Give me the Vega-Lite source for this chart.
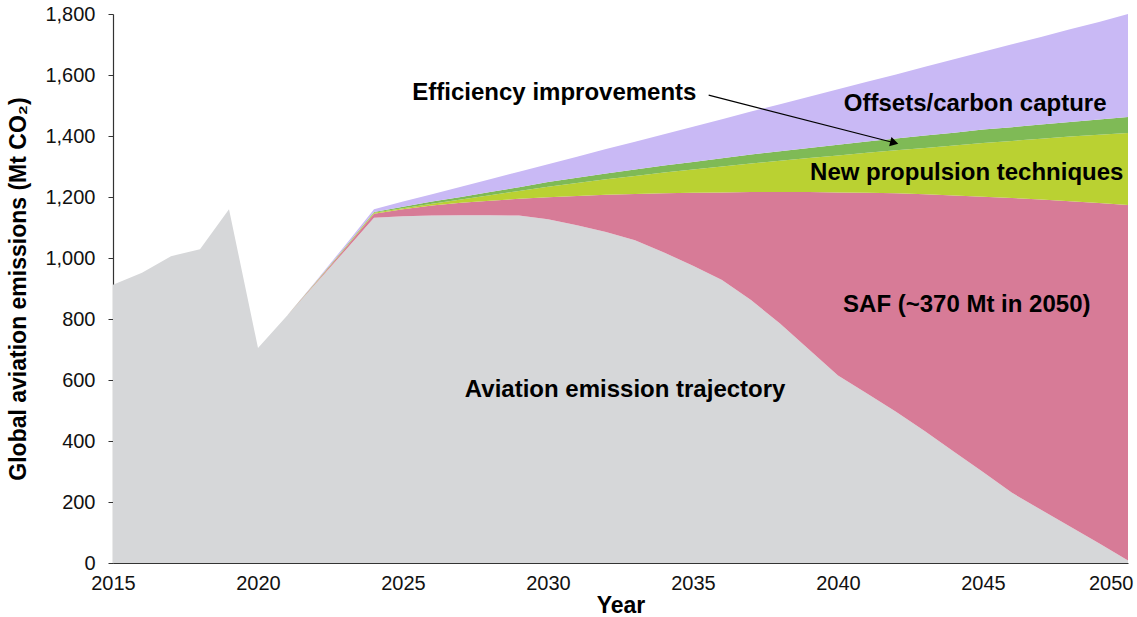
{
  "$schema": "https://vega.github.io/schema/vega-lite/v6.json",
  "width": 1015,
  "height": 549,
  "autosize": "none",
  "padding": {"left": 113, "top": 14, "right": 9, "bottom": 54},
  "background": "white",
  "config": {"view": {"stroke": null}, "font": "Liberation Sans"},
  "datasets": {
    "em": [
      {"year": 2015, "s1_trajectory": 912, "s2_saf": 0, "s3_propulsion": 0, "s4_efficiency": 0, "s5_offsets": 0},
      {"year": 2016, "s1_trajectory": 952, "s2_saf": 0, "s3_propulsion": 0, "s4_efficiency": 0, "s5_offsets": 0},
      {"year": 2017, "s1_trajectory": 1006, "s2_saf": 0, "s3_propulsion": 0, "s4_efficiency": 0, "s5_offsets": 0},
      {"year": 2018, "s1_trajectory": 1029, "s2_saf": 0, "s3_propulsion": 0, "s4_efficiency": 0, "s5_offsets": 0},
      {"year": 2019, "s1_trajectory": 1160, "s2_saf": 0, "s3_propulsion": 0, "s4_efficiency": 0, "s5_offsets": 0},
      {"year": 2020, "s1_trajectory": 705, "s2_saf": 0, "s3_propulsion": 0, "s4_efficiency": 0, "s5_offsets": 0},
      {"year": 2021, "s1_trajectory": 811, "s2_saf": 0, "s3_propulsion": 0, "s4_efficiency": 0, "s5_offsets": 0},
      {"year": 2022, "s1_trajectory": 917, "s2_saf": 3, "s3_propulsion": 1, "s4_efficiency": 1, "s5_offsets": 3},
      {"year": 2023, "s1_trajectory": 1024, "s2_saf": 7, "s3_propulsion": 2, "s4_efficiency": 2, "s5_offsets": 6},
      {"year": 2024, "s1_trajectory": 1132, "s2_saf": 13, "s3_propulsion": 3, "s4_efficiency": 3, "s5_offsets": 9},
      {"year": 2025, "s1_trajectory": 1137, "s2_saf": 23, "s3_propulsion": 3, "s4_efficiency": 5, "s5_offsets": 17},
      {"year": 2026, "s1_trajectory": 1139, "s2_saf": 33, "s3_propulsion": 6, "s4_efficiency": 7, "s5_offsets": 24},
      {"year": 2027, "s1_trajectory": 1140, "s2_saf": 41, "s3_propulsion": 11, "s4_efficiency": 8, "s5_offsets": 34},
      {"year": 2028, "s1_trajectory": 1140, "s2_saf": 48, "s3_propulsion": 18, "s4_efficiency": 10, "s5_offsets": 42},
      {"year": 2029, "s1_trajectory": 1139, "s2_saf": 55, "s3_propulsion": 26, "s4_efficiency": 12, "s5_offsets": 51},
      {"year": 2030, "s1_trajectory": 1127, "s2_saf": 72, "s3_propulsion": 35, "s4_efficiency": 15, "s5_offsets": 58},
      {"year": 2031, "s1_trajectory": 1107, "s2_saf": 96, "s3_propulsion": 43, "s4_efficiency": 17, "s5_offsets": 69},
      {"year": 2032, "s1_trajectory": 1085, "s2_saf": 122, "s3_propulsion": 51, "s4_efficiency": 19, "s5_offsets": 80},
      {"year": 2033, "s1_trajectory": 1058, "s2_saf": 152, "s3_propulsion": 59, "s4_efficiency": 21, "s5_offsets": 91},
      {"year": 2034, "s1_trajectory": 1018, "s2_saf": 194, "s3_propulsion": 68, "s4_efficiency": 23, "s5_offsets": 103},
      {"year": 2035, "s1_trajectory": 975, "s2_saf": 239, "s3_propulsion": 76, "s4_efficiency": 25, "s5_offsets": 115},
      {"year": 2036, "s1_trajectory": 928, "s2_saf": 287, "s3_propulsion": 85, "s4_efficiency": 27, "s5_offsets": 128},
      {"year": 2037, "s1_trajectory": 862, "s2_saf": 354, "s3_propulsion": 94, "s4_efficiency": 29, "s5_offsets": 141},
      {"year": 2038, "s1_trajectory": 785, "s2_saf": 431, "s3_propulsion": 103, "s4_efficiency": 31, "s5_offsets": 154},
      {"year": 2039, "s1_trajectory": 700, "s2_saf": 516, "s3_propulsion": 112, "s4_efficiency": 33, "s5_offsets": 168},
      {"year": 2040, "s1_trajectory": 615, "s2_saf": 600, "s3_propulsion": 121, "s4_efficiency": 35, "s5_offsets": 182},
      {"year": 2041, "s1_trajectory": 556, "s2_saf": 658, "s3_propulsion": 131, "s4_efficiency": 37, "s5_offsets": 196},
      {"year": 2042, "s1_trajectory": 496, "s2_saf": 716, "s3_propulsion": 141, "s4_efficiency": 39, "s5_offsets": 210},
      {"year": 2043, "s1_trajectory": 432, "s2_saf": 777, "s3_propulsion": 152, "s4_efficiency": 41, "s5_offsets": 225},
      {"year": 2044, "s1_trajectory": 365, "s2_saf": 840, "s3_propulsion": 164, "s4_efficiency": 42, "s5_offsets": 241},
      {"year": 2045, "s1_trajectory": 298, "s2_saf": 903, "s3_propulsion": 176, "s4_efficiency": 44, "s5_offsets": 255},
      {"year": 2046, "s1_trajectory": 230, "s2_saf": 967, "s3_propulsion": 187, "s4_efficiency": 45, "s5_offsets": 272},
      {"year": 2047, "s1_trajectory": 175, "s2_saf": 1017, "s3_propulsion": 199, "s4_efficiency": 47, "s5_offsets": 287},
      {"year": 2048, "s1_trajectory": 120, "s2_saf": 1066, "s3_propulsion": 212, "s4_efficiency": 48, "s5_offsets": 304},
      {"year": 2049, "s1_trajectory": 65, "s2_saf": 1115, "s3_propulsion": 224, "s4_efficiency": 50, "s5_offsets": 320},
      {"year": 2050, "s1_trajectory": 8, "s2_saf": 1166, "s3_propulsion": 236, "s4_efficiency": 52, "s5_offsets": 338}
    ],
    "arrow": [
      {"x": 2035.54, "y": 1534, "x2": 2041.94, "y2": 1378}
    ],
    "labels": [
      {"x": 2030.22, "y": 1541, "label": "Efficiency improvements"},
      {"x": 2044.73, "y": 1505, "label": "Offsets/carbon capture"},
      {"x": 2044.44, "y": 1279, "label": "New propulsion techniques"},
      {"x": 2044.44, "y": 846, "label": "SAF (~370 Mt in 2050)"},
      {"x": 2032.66, "y": 567, "label": "Aviation emission trajectory"}
    ]
  },
  "layer": [
    {
      "data": {"name": "em"},
      "transform": [
        {"fold": ["s1_trajectory", "s2_saf", "s3_propulsion", "s4_efficiency", "s5_offsets"], "as": ["series", "value"]}
      ],
      "mark": {"type": "area", "opacity": 1},
      "encoding": {
        "x": {
          "field": "year", "type": "quantitative", "title": "Year",
          "scale": {"domain": [2015, 2050], "nice": false, "zero": false},
          "axis": {
            "values": [2015, 2020, 2025, 2030, 2035, 2040, 2045, 2050],
            "format": "d", "ticks": false, "grid": false,
            "domainColor": "#333333", "domainWidth": 1.2,
            "labelFontSize": 20, "labelColor": "#111111", "labelPadding": 10,
            "labelAlign": {"condition": {"test": "datum.value == 2050", "value": "right"}, "value": "center"},
            "labelOffset": {"condition": {"test": "datum.value == 2050", "value": 5}, "value": 0},
            "titleFontSize": 23, "titleFontWeight": "bold", "titleColor": "#000000", "titlePadding": 1
          }
        },
        "y": {
          "field": "value", "type": "quantitative", "stack": "zero",
          "title": "Global aviation emissions (Mt CO₂)",
          "scale": {"domain": [0, 1800], "nice": false},
          "axis": {
            "values": [0, 200, 400, 600, 800, 1000, 1200, 1400, 1600, 1800],
            "format": ",.0f", "grid": false,
            "ticks": true, "tickSize": 5, "tickColor": "#333333",
            "domainColor": "#333333", "domainWidth": 1.2,
            "labelFontSize": 20, "labelColor": "#111111", "labelPadding": 13,
            "titleFontSize": 23, "titleFontWeight": "bold", "titleColor": "#000000", "titlePadding": 14
          }
        },
        "color": {
          "field": "series", "type": "nominal", "legend": null,
          "scale": {
            "domain": ["s1_trajectory", "s2_saf", "s3_propulsion", "s4_efficiency", "s5_offsets"],
            "range": ["#d6d7d9", "#d77b97", "#bad132", "#7fba56", "#c9b9f5"]
          }
        },
        "order": {"field": "series", "sort": "ascending"}
      }
    },
    {
      "data": {"name": "arrow"},
      "mark": {"type": "rule", "color": "#000000", "strokeWidth": 1.2},
      "encoding": {
        "x": {"field": "x", "type": "quantitative", "title": "Year"},
        "y": {"field": "y", "type": "quantitative", "title": "Global aviation emissions (Mt CO₂)"},
        "x2": {"field": "x2"},
        "y2": {"field": "y2"}
      }
    },
    {
      "data": {"name": "arrow"},
      "mark": {"type": "point", "shape": "triangle-right", "filled": true, "color": "#000000", "opacity": 1, "size": 90, "angle": 14.5},
      "encoding": {
        "x": {"field": "x2", "type": "quantitative", "title": "Year"},
        "y": {"field": "y2", "type": "quantitative", "title": "Global aviation emissions (Mt CO₂)"}
      }
    },
    {
      "data": {"name": "labels"},
      "mark": {"type": "text", "fontSize": 24, "fontWeight": "bold", "color": "#000000", "align": "center", "baseline": "middle"},
      "encoding": {
        "x": {"field": "x", "type": "quantitative", "title": "Year"},
        "y": {"field": "y", "type": "quantitative", "title": "Global aviation emissions (Mt CO₂)"},
        "text": {"field": "label", "type": "nominal"}
      }
    }
  ]
}
